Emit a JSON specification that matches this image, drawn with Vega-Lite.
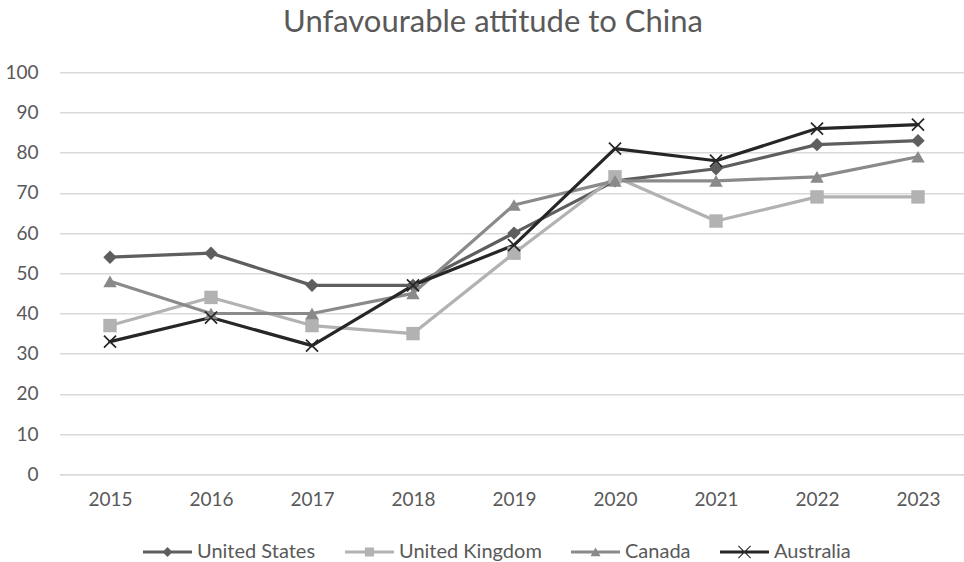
{
  "$schema": "https://vega.github.io/schema/vega-lite/v6.json",
  "autosize": {"type": "none"},
  "padding": {"left": 59.5, "top": 72.3, "right": 0, "bottom": 87.7},
  "width": 909,
  "height": 402,
  "background": "white",
  "title": {
    "text": "Unfavourable attitude to China",
    "font": "Lato",
    "fontSize": 31,
    "fontWeight": "normal",
    "color": "#595959",
    "anchor": "middle",
    "frame": "group",
    "dx": -21,
    "offset": 24
  },
  "config": {
    "view": {"stroke": null},
    "font": "Lato",
    "axis": {
      "labelFont": "Lato",
      "labelFontSize": 19,
      "labelColor": "#595959",
      "ticks": false,
      "tickSize": 0,
      "title": null
    },
    "legend": {
      "labelFont": "Lato",
      "labelFontSize": 20,
      "labelColor": "#595959",
      "symbolSize": 2401,
      "symbolStrokeWidth": 0,
      "labelOffset": 5,
      "columnPadding": 29
    }
  },
  "data": {
    "values": [
      {"year": "2015", "country": "United States", "value": 54},
      {"year": "2016", "country": "United States", "value": 55},
      {"year": "2017", "country": "United States", "value": 47},
      {"year": "2018", "country": "United States", "value": 47},
      {"year": "2019", "country": "United States", "value": 60},
      {"year": "2020", "country": "United States", "value": 73},
      {"year": "2021", "country": "United States", "value": 76},
      {"year": "2022", "country": "United States", "value": 82},
      {"year": "2023", "country": "United States", "value": 83},
      {"year": "2015", "country": "United Kingdom", "value": 37},
      {"year": "2016", "country": "United Kingdom", "value": 44},
      {"year": "2017", "country": "United Kingdom", "value": 37},
      {"year": "2018", "country": "United Kingdom", "value": 35},
      {"year": "2019", "country": "United Kingdom", "value": 55},
      {"year": "2020", "country": "United Kingdom", "value": 74},
      {"year": "2021", "country": "United Kingdom", "value": 63},
      {"year": "2022", "country": "United Kingdom", "value": 69},
      {"year": "2023", "country": "United Kingdom", "value": 69},
      {"year": "2015", "country": "Canada", "value": 48},
      {"year": "2016", "country": "Canada", "value": 40},
      {"year": "2017", "country": "Canada", "value": 40},
      {"year": "2018", "country": "Canada", "value": 45},
      {"year": "2019", "country": "Canada", "value": 67},
      {"year": "2020", "country": "Canada", "value": 73},
      {"year": "2021", "country": "Canada", "value": 73},
      {"year": "2022", "country": "Canada", "value": 74},
      {"year": "2023", "country": "Canada", "value": 79},
      {"year": "2015", "country": "Australia", "value": 33},
      {"year": "2016", "country": "Australia", "value": 39},
      {"year": "2017", "country": "Australia", "value": 32},
      {"year": "2018", "country": "Australia", "value": 47},
      {"year": "2019", "country": "Australia", "value": 57},
      {"year": "2020", "country": "Australia", "value": 81},
      {"year": "2021", "country": "Australia", "value": 78},
      {"year": "2022", "country": "Australia", "value": 86},
      {"year": "2023", "country": "Australia", "value": 87}
    ]
  },
  "encoding": {
    "x": {
      "field": "year",
      "type": "ordinal",
      "sort": null,
      "scale": {"type": "point", "padding": 0.5},
      "axis": {
        "labelAngle": 0,
        "labelPadding": 16,
        "grid": false,
        "domain": true,
        "domainColor": "#d9d9d9",
        "domainWidth": 1.5
      }
    },
    "y": {
      "field": "value",
      "type": "quantitative",
      "scale": {"domain": [0, 100], "nice": false},
      "axis": {
        "values": [0, 10, 20, 30, 40, 50, 60, 70, 80, 90, 100],
        "domain": false,
        "grid": true,
        "gridColor": "#d9d9d9",
        "gridWidth": 1.5,
        "labelPadding": 21.5
      }
    }
  },
  "layer": [
    {
      "mark": {"type": "line", "strokeWidth": 3.2, "strokeJoin": "round", "strokeCap": "round"},
      "encoding": {
        "color": {
          "field": "country",
          "type": "nominal",
          "scale": {
            "domain": ["United States", "United Kingdom", "Canada", "Australia"],
            "range": ["#5e5e5e", "#b2b2b2", "#8a8a8a", "#262626"]
          },
          "legend": null
        },
        "order": {"field": "year"}
      }
    },
    {
      "mark": {"type": "point", "filled": true, "opacity": 1, "size": 180, "strokeWidth": 0},
      "encoding": {
        "color": {
          "field": "country",
          "type": "nominal",
          "scale": {
            "domain": ["United States", "United Kingdom", "Canada", "Australia"],
            "range": ["#5e5e5e", "#b2b2b2", "#8a8a8a", "#262626"]
          },
          "legend": null
        },
        "shape": {
          "field": "country",
          "type": "nominal",
          "scale": {
            "domain": ["United States", "United Kingdom", "Canada", "Australia"],
            "range": [
              "diamond",
              "square",
              "triangle-up",
              "M-0.81,-0.99L0.99,0.81L0.81,0.99L-0.99,-0.81ZM-0.81,0.99L-0.99,0.81L0.81,-0.99L0.99,-0.81Z"
            ]
          },
          "legend": null
        }
      }
    },
    {
      "transform": [{"filter": "false"}],
      "mark": {"type": "point", "filled": true, "opacity": 1, "strokeWidth": 0},
      "encoding": {
        "x": null,
        "y": null,
        "color": {
          "field": "country",
          "type": "nominal",
          "scale": {
            "domain": ["United States", "United Kingdom", "Canada", "Australia"],
            "range": ["#5e5e5e", "#b2b2b2", "#8a8a8a", "#262626"]
          },
          "legend": {
            "title": null,
            "orient": "none",
            "direction": "horizontal",
            "legendX": 83.5,
            "legendY": 455
          }
        },
        "shape": {
          "field": "country",
          "type": "nominal",
          "scale": {
            "domain": ["United States", "United Kingdom", "Canada", "Australia"],
            "range": [
              "M-1,-0.061H1V0.061H-1ZM0,-0.204L0.204,0L0,0.204L-0.204,0Z",
              "M-1,-0.061H1V0.061H-1ZM-0.184,-0.184H0.184V0.184H-0.184Z",
              "M-1,-0.061H1V0.061H-1ZM0,-0.19L0.204,0.17L-0.204,0.17Z",
              "M-1,-0.061H1V0.061H-1ZM-0.235,-0.265L0.265,0.235L0.235,0.265L-0.265,-0.235ZM-0.235,0.265L-0.265,0.235L0.235,-0.265L0.265,-0.235Z"
            ]
          },
          "legend": {
            "title": null,
            "orient": "none",
            "direction": "horizontal",
            "legendX": 83.5,
            "legendY": 455
          }
        }
      }
    }
  ],
  "resolve": {"scale": {"color": "independent", "shape": "independent"}}
}
